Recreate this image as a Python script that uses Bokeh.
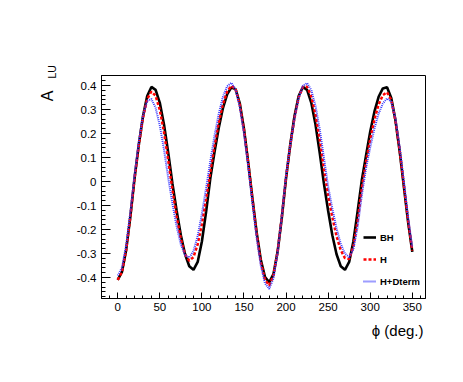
from math import pi
from bokeh.plotting import figure
from bokeh.models import Range1d, FixedTicker, Label, Legend, LegendItem, Title
from bokeh.embed import file_html
from bokeh.resources import INLINE

# azimuthal angle (deg.)
phi = [0, 5, 10, 15, 20, 25, 30, 35, 40, 45, 50, 55, 60, 65, 70, 75, 80, 85, 90,
       95, 100, 105, 110, 115, 120, 125, 130, 135, 140, 145, 150, 155, 160, 165,
       170, 175, 180, 185, 190, 195, 200, 205, 210, 215, 220, 225, 230, 235, 240,
       245, 250, 255, 260, 265, 270, 275, 280, 285, 290, 295, 300, 305, 310, 315,
       320, 325, 330, 335, 340, 345, 350]

# A_LU for BH only
a_bh = [-0.410, -0.377, -0.285, -0.146, 0.014, 0.153, 0.272, 0.356, 0.394, 0.382,
        0.328, 0.237, 0.120, -0.009, -0.122, -0.224, -0.303, -0.353, -0.368,
        -0.335, -0.250, -0.126, 0.013, 0.123, 0.223, 0.306, 0.363, 0.392, 0.385,
        0.326, 0.219, 0.080, -0.069, -0.211, -0.326, -0.398, -0.420,
        -0.386, -0.292, -0.150, 0.014, 0.153, 0.272, 0.356, 0.394, 0.382, 0.328,
        0.237, 0.120, -0.009, -0.122, -0.224, -0.303, -0.353, -0.368, -0.335,
        -0.250, -0.126, 0.005, 0.107, 0.207, 0.291, 0.353, 0.388, 0.393, 0.348,
        0.255, 0.126, -0.021, -0.168, -0.293]

# A_LU with H
a_h = [-0.410, -0.377, -0.285, -0.146, 0.014, 0.151, 0.266, 0.344, 0.375, 0.357,
       0.298, 0.205, 0.088, -0.035, -0.147, -0.240, -0.304, -0.330, -0.315,
       -0.262, -0.178, -0.073, 0.040, 0.149, 0.245, 0.323, 0.375, 0.399, 0.385,
       0.321, 0.214, 0.079, -0.071, -0.217, -0.336, -0.410, -0.433,
       -0.392, -0.291, -0.145, 0.019, 0.151, 0.265, 0.350, 0.394, 0.395, 0.354,
       0.278, 0.173, 0.051, -0.058, -0.149, -0.228, -0.286, -0.319, -0.323,
       -0.271, -0.166, -0.029, 0.081, 0.176, 0.258, 0.321, 0.360, 0.372, 0.340,
       0.255, 0.130, -0.015, -0.162, -0.288]

# A_LU with H + D-term
a_hd = [-0.392, -0.359, -0.265, -0.127, 0.029, 0.165, 0.274, 0.336, 0.344, 0.307,
        0.233, 0.132, 0.015, -0.093, -0.188, -0.262, -0.307, -0.317, -0.290,
        -0.226, -0.135, -0.027, 0.085, 0.191, 0.282, 0.353, 0.397, 0.411, 0.384,
        0.310, 0.199, 0.063, -0.088, -0.234, -0.351, -0.425, -0.447,
        -0.404, -0.296, -0.142, 0.026, 0.152, 0.263, 0.348, 0.399, 0.410, 0.381,
        0.315, 0.218, 0.099, -0.021, -0.113, -0.195, -0.260, -0.301, -0.315,
        -0.282, -0.190, -0.058, 0.055, 0.142, 0.220, 0.283, 0.325, 0.346, 0.333,
        0.263, 0.144, 0.000, -0.147, -0.275]

series_names = ["BH", "H", "H+Dterm"]

x_ticks = [0, 50, 100, 150, 200, 250, 300, 350]
x_tick_labels = ["0", "50", "100", "150", "200", "250", "300", "350"]
x_minor = [-10, 10, 20, 30, 40, 60, 70, 80, 90, 110, 120, 130, 140, 160, 170, 180,
           190, 210, 220, 230, 240, 260, 270, 280, 290, 310, 320, 330, 340, 360]
y_ticks = [-0.4, -0.3, -0.2, -0.1, 0.0, 0.1, 0.2, 0.3, 0.4]
y_tick_labels = ["-0.4", "-0.3", "-0.2", "-0.1", "0", "0.1", "0.2", "0.3", "0.4"]
y_minor = [round(-0.48 + 0.02 * i, 2) for i in range(47)]

FONT = "Liberation Sans"

p = figure(frame_width=324, frame_height=223,
           min_border_left=101, min_border_right=30,
           min_border_top=75, min_border_bottom=76,
           x_range=Range1d(-19.3, 365.7), y_range=Range1d(-0.4875, 0.4417),
           output_backend="svg", toolbar_location=None)
p.above = []
p.grid.visible = False
p.outline_line_color = "black"
p.outline_line_width = 1
p.background_fill_color = "white"
p.border_fill_color = "white"

p.xaxis.ticker = FixedTicker(ticks=x_ticks, minor_ticks=x_minor)
p.xaxis.major_label_overrides = dict(zip(x_ticks, x_tick_labels))
p.yaxis.ticker = FixedTicker(ticks=y_ticks, minor_ticks=y_minor)
p.yaxis.major_label_overrides = dict(zip(y_ticks, y_tick_labels))

for ax in (p.xaxis, p.yaxis):
    ax.axis_line_color = "black"
    ax.major_tick_line_color = "black"
    ax.minor_tick_line_color = "black"
    ax.major_tick_out = 0
    ax.minor_tick_out = 0
    ax.major_label_text_font = FONT
    ax.major_label_text_font_size = "11.5px"
    ax.major_label_text_color = "black"
p.xaxis.major_tick_in = 6
p.xaxis.minor_tick_in = 3
p.xaxis.major_label_standoff = 4
p.yaxis.major_tick_in = 9
p.yaxis.minor_tick_in = 4
p.yaxis.major_label_standoff = 5

r_bh = p.line(phi, a_bh, line_color="black", line_width=2.6)
r_h = p.line(phi, a_h, line_color="#ff0000", line_width=2.5, line_dash="3 2")
r_hd = p.line(phi, a_hd, line_color="#3a3aff", line_width=2, line_dash="1 1")

legend = Legend(items=[LegendItem(label=series_names[0], renderers=[r_bh]),
                       LegendItem(label=series_names[1], renderers=[r_h]),
                       LegendItem(label=series_names[2], renderers=[r_hd])],
                location=(262, 6), orientation="vertical",
                glyph_width=13, glyph_height=22, label_height=22,
                label_standoff=4, spacing=0, padding=0, margin=0,
                border_line_alpha=0, background_fill_alpha=0,
                label_text_font=FONT, label_text_font_style="bold",
                label_text_font_size="9.5px", label_text_color="black")
p.add_layout(legend)

# x-axis title, right-aligned at the end of the axis
p.add_layout(Title(text="ϕ (deg.)", align="right", standoff=12, offset=2,
                   text_font=FONT, text_font_size="15px", text_font_style="normal",
                   text_color="black"), "below")

# y-axis title A_LU at the top of the axis: "A" as a left title, "LU" as a subscript
p.add_layout(Title(text="A", align="right", vertical_align="bottom",
                   standoff=35, offset=15,
                   text_font=FONT, text_font_size="16px", text_font_style="normal",
                   text_color="black"), "left")
p.add_layout(Label(x=-49.5, y=-3, x_units="screen", y_units="screen", text="LU",
                   angle=pi / 2, text_font=FONT, text_font_size="10.5px",
                   text_align="left", text_baseline="alphabetic", text_color="black"),
             "above")

open("out.html", "w").write(file_html(p, INLINE))
